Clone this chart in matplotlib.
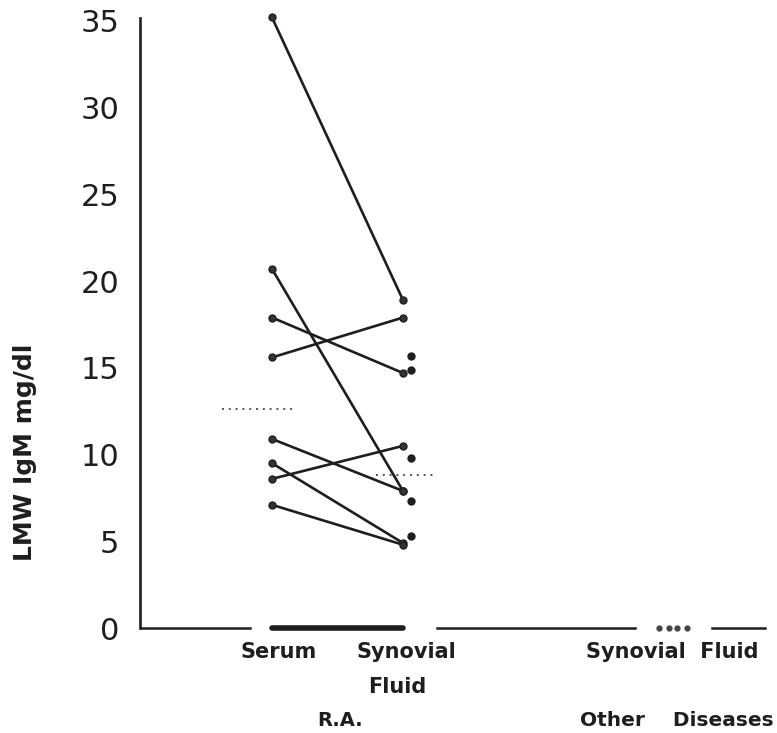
import matplotlib
matplotlib.use("Agg")
from matplotlib import pyplot as plt

# R.A. patients, paired serum -> synovial fluid (mg/dl)
serum = [35.2, 20.7, 17.9, 15.6, 10.9, 9.5, 8.6, 7.1]
synovial = [18.9, 7.9, 14.7, 17.9, 7.9, 4.9, 10.5, 4.8]
# synovial fluid only (no serum pair)
synovial_only = [15.7, 14.9, 9.8, 7.3, 5.3]
# many patients at zero in both
zero_pairs = [0.0, 0.0]
# other diseases, synovial fluid
other_sf = [0.0, 0.0, 0.0, 0.0]
other_x = [3.955, 4.03, 4.09, 4.17]

serum_mean = 12.6
synovial_mean = 8.8

W, H = 777, 733
fig = plt.figure(figsize=(W / 100, H / 100), dpi=100)
ax = fig.add_axes([140 / W, 105 / H, (W - 140) / W, 610 / H])
ax.set_xlim(-0.008, 4.855)
ax.set_ylim(0, 35.17)

col = "#1e1e1e"
x_s, x_f = 1.0, 2.0

for a, b in zip(serum, synovial):
    ax.plot([x_s, x_f], [a, b], color=col, lw=1.9, marker="o", ms=5,
            mfc="#333333", mec=col, zorder=3, clip_on=False)

ax.plot([2.06] * len(synovial_only), synovial_only, "o", color=col, ms=5, zorder=3)

# zero values: thick bar
ax.plot([x_s, x_f], zero_pairs, color=col, lw=4, solid_capstyle="round",
        clip_on=False, zorder=3)

ax.plot(other_x, other_sf, "o", color="#444444", ms=3.5, clip_on=False, zorder=3)

# means
ax.plot([0.62, 1.15], [serum_mean] * 2, color="#555555", lw=1.4, ls=(0, (1, 2.5)))
ax.plot([1.79, 2.24], [synovial_mean] * 2, color="#555555", lw=1.4, ls=(0, (1, 2.5)))

# broken baseline
for x0, x1 in [(0, 0.83), (2.26, 3.77), (4.36, 4.76)]:
    ax.plot([x0, x1], [0, 0], color=col, lw=1.8, clip_on=False)

for s in ["top", "right", "bottom"]:
    ax.spines[s].set_visible(False)
ax.spines["left"].set_linewidth(1.9)
ax.spines["left"].set_color(col)
ax.set_xticks([])
ax.set_yticks(range(0, 36, 5))
ax.tick_params(axis="y", length=0, pad=15, labelsize=22, colors=col)

fs = 15
fig.text(279 / W, 1 - 652 / H, "Serum", ha="center", va="center", fontsize=fs, fontweight="bold", color=col)
fig.text(406 / W, 1 - 652 / H, "Synovial", ha="center", va="center", fontsize=fs, fontweight="bold", color=col)
fig.text(397 / W, 1 - 687 / H, "Fluid", ha="center", va="center", fontsize=fs, fontweight="bold", color=col)
fig.text(340 / W, 1 - 720 / H, "R.A.", ha="center", va="center", fontsize=fs - 1, fontweight="bold", color=col)
fig.text(672 / W, 1 - 652 / H, "Synovial  Fluid", ha="center", va="center", fontsize=fs, fontweight="bold", color=col)
fig.text(677 / W, 1 - 720 / H, "Other    Diseases", ha="center", va="center", fontsize=fs - 0.5, fontweight="bold", color=col)
fig.text(25 / W, 1 - 452 / H, "LMW IgM mg/dl", ha="center", va="center", rotation=90,
         fontsize=18, fontweight="bold", color=col)

fig.savefig("out.png", dpi=100)
